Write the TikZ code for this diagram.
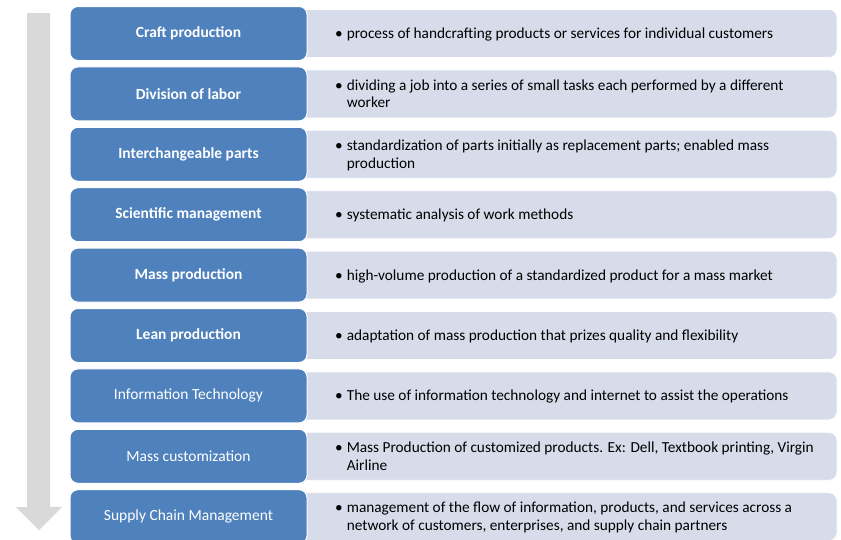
\documentclass[tikz,border=0pt]{standalone}
\usepackage{fontspec}
\setmainfont{Carlito}
\usetikzlibrary{positioning}
\definecolor{stageblue}{RGB}{79,129,189}
\definecolor{notefill}{RGB}{214,220,234}
\definecolor{timegray}{RGB}{217,217,217}
\newcommand{\descitem}[1]{\begin{tabular}{@{}l@{\hspace{4pt}}l@{}}\textbullet & #1\end{tabular}}

\begin{document}
\begin{tikzpicture}[x=1pt, y=-1pt,
    stage/.style={draw=white, line width=1pt, fill=stageblue, rounded corners=8pt,
        minimum width=237pt, minimum height=54pt, outer sep=0pt, text=white,
        font=\fontsize{15.5}{18}\selectfont, align=center},
    note/.style={draw=white, line width=0.8pt, fill=notefill, rounded corners=8pt,
        minimum width=541pt, minimum height=48pt, outer sep=0pt},
    desc/.style={inner sep=0pt, text=black, yshift=-1.5pt, font=\fontsize{15.3}{17.5}\selectfont}]
    \useasboundingbox (0,0) rectangle (841,539);

    % Time arrow
    \fill[timegray] (27,13) -- (50,13) -- (50,507) -- (62,507) -- (39,530)
        -- (16,507) -- (27,507) -- cycle;

    % Light boxes (behind the stages)
    \node[note, anchor=west] (craftnote) at (296,33.5) {};
    \node[note, below=12.4pt of craftnote] (divisionnote) {};
    \node[note, below=12.4pt of divisionnote] (partsnote) {};
    \node[note, below=12.4pt of partsnote] (scinote) {};
    \node[note, below=12.4pt of scinote] (massnote) {};
    \node[note, below=12.4pt of massnote] (leannote) {};
    \node[note, below=12.4pt of leannote] (infonote) {};
    \node[note, below=12.4pt of infonote] (customnote) {};
    \node[note, below=12.4pt of customnote] (supplynote) {};

    % Stages
    \node[stage, left=-11pt of craftnote] (craft) {\bfseries Craft production};
    \node[stage, left=-11pt of divisionnote] (division) {\bfseries Division of labor};
    \node[stage, left=-11pt of partsnote] (parts) {\bfseries Interchangeable parts};
    \node[stage, left=-11pt of scinote] (sci) {\bfseries Scientific management};
    \node[stage, left=-11pt of massnote] (mass) {\bfseries Mass production};
    \node[stage, left=-11pt of leannote] (lean) {\bfseries Lean production};
    \node[stage, left=-11pt of infonote] (info) {Information Technology};
    \node[stage, left=-11pt of customnote] (custom) {Mass customization};
    \node[stage, left=-11pt of supplynote] (supply) {Supply Chain Management};

    % Descriptions
    \node[desc, right=28pt of craft.east] (crafttext)
        {\descitem{process of handcrafting products or services for individual customers}};
    \node[desc, right=28pt of division.east] (divisiontext)
        {\descitem{dividing a job into a series of small tasks each performed by a different\\ & worker}};
    \node[desc, right=28pt of parts.east] (partstext)
        {\descitem{standardization of parts initially as replacement parts; enabled mass\\ & production}};
    \node[desc, right=28pt of sci.east] (scitext)
        {\descitem{systematic analysis of work methods}};
    \node[desc, right=28pt of mass.east] (masstext)
        {\descitem{high-volume production of a standardized product for a mass market}};
    \node[desc, right=28pt of lean.east] (leantext)
        {\descitem{adaptation of mass production that prizes quality and flexibility}};
    \node[desc, right=28pt of info.east] (infotext)
        {\descitem{The use of information technology and internet to assist the operations}};
    \node[desc, right=28pt of custom.east] (customtext)
        {\descitem{Mass Production of customized products. Ex: Dell, Textbook printing, Virgin\\ & Airline}};
    \node[desc, right=28pt of supply.east] (supplytext)
        {\descitem{management of the flow of information, products, and services across a\\ & network of customers, enterprises, and supply chain partners}};
\end{tikzpicture}
\end{document}
